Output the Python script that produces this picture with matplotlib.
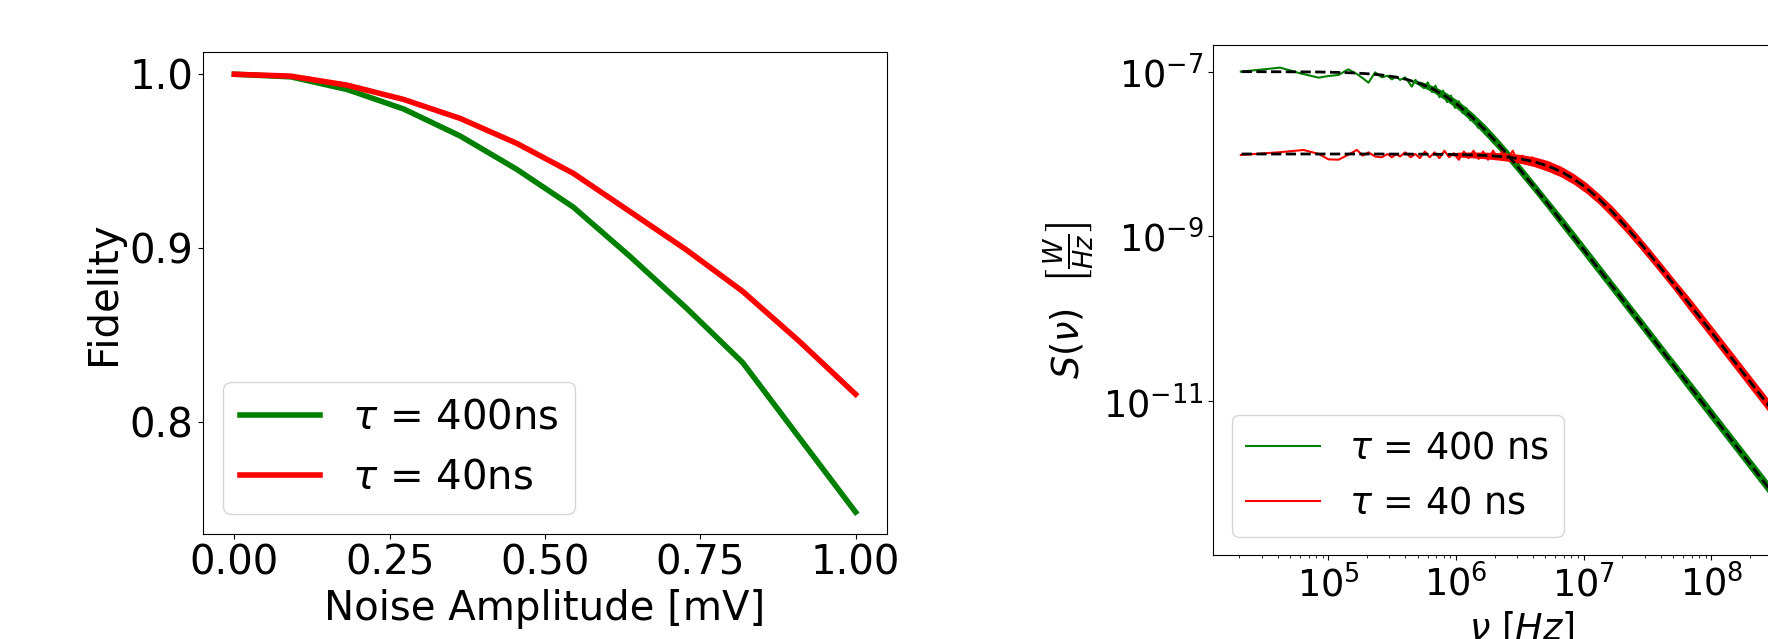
import matplotlib.pyplot as plt
import numpy as np
from matplotlib.ticker import NullLocator

# left panel: fidelity vs noise amplitude
amplitude = [0.0, 0.0909, 0.1818, 0.2727, 0.3636, 0.4545, 0.5455, 0.6364, 0.7273, 0.8182, 0.9091, 1.0]
fid_400ns = [1.000, 0.9985, 0.9912, 0.9800, 0.9645, 0.9454, 0.9237, 0.8955, 0.8658, 0.8344, 0.7914, 0.7485]
fid_40ns = [1.000, 0.9989, 0.9937, 0.9855, 0.9746, 0.9603, 0.9431, 0.9212, 0.8992, 0.8753, 0.8467, 0.8162]

# right panel: measured spectra (sparse low-frequency points, Hz / log10 S)
green_nu = [2.06e4, 4.19e4, 6.0e4, 8.4e4, 1.0e5, 1.2e5, 1.43e5, 1.67e5, 1.86e5, 2.06e5,
            2.32e5, 2.62e5, 2.9e5, 3.14e5, 3.4e5, 3.64e5, 4.0e5, 4.5e5, 4.8e5, 5.2e5,
            5.6e5, 6.0e5, 6.5e5, 6.9e5, 7.4e5, 7.9e5, 8.5e5, 9.1e5, 9.8e5, 1.05e6,
            1.12e6, 1.2e6, 1.29e6, 1.38e6, 1.48e6, 1.58e6, 1.7e6, 1.82e6, 1.95e6, 2.09e6]
green_log = [-7.000, -6.951, -7.02, -7.073, -7.053, -7.040, -6.972, -7.028, -7.08, -7.134,
             -7.008, -7.069, -7.05, -7.093, -7.06, -7.10, -7.07, -7.182, -7.10, -7.16,
             -7.20, -7.13, -7.25, -7.17, -7.31, -7.23, -7.37, -7.29, -7.44, -7.36,
             -7.50, -7.44, -7.59, -7.53, -7.68, -7.63, -7.76, -7.72, -7.86, -7.83]

red_nu = [2.06e4, 4.2e4, 6.4e4, 8.4e4, 1.0e5, 1.2e5, 1.43e5, 1.67e5, 1.86e5, 2.06e5,
          2.32e5, 2.62e5, 2.9e5, 3.14e5, 3.4e5, 3.64e5, 4.0e5, 4.4e5, 4.8e5, 5.2e5,
          5.7e5, 6.2e5, 6.8e5, 7.4e5, 8.1e5, 8.8e5, 9.6e5, 1.05e6, 1.15e6, 1.25e6,
          1.37e6, 1.5e6, 1.63e6, 1.78e6, 1.95e6, 2.13e6, 2.33e6, 2.54e6, 2.78e6, 3.03e6,
          3.31e6, 3.62e6, 3.95e6, 4.3e6]
red_log = [-8.012, -7.978, -7.951, -8.00, -8.065, -8.069, -8.01, -7.95, -8.02, -7.98,
           -8.03, -8.04, -8.00, -8.04, -8.00, -8.03, -7.98, -8.04, -8.00, -8.05,
           -7.97, -8.04, -7.98, -8.05, -7.96, -8.04, -7.99, -8.07, -7.97, -8.05,
           -7.96, -8.06, -7.97, -8.07, -7.96, -8.06, -7.95, -8.06, -7.96, -8.10,
           -8.02, -8.12, -8.04, -8.15]

# dense high-frequency part: fit values (log10 S) and spread of the noise band (decades)
nu_exp = [4.32, 4.42, 4.52, 4.62, 4.72, 4.82, 4.92, 5.02, 5.12, 5.22,
          5.32, 5.42, 5.52, 5.62, 5.72, 5.82, 5.92, 6.02, 6.12, 6.22,
          6.32, 6.42, 6.52, 6.62, 6.72, 6.82, 6.92, 7.02, 7.12, 7.22,
          7.32, 7.42, 7.52, 7.62, 7.72, 7.82, 7.92, 8.02, 8.12, 8.22,
          8.32, 8.42, 8.52, 8.62, 8.72]
fit_400ns = [-7.000, -7.000, -7.001, -7.001, -7.002, -7.003, -7.004, -7.007, -7.011, -7.017,
             -7.027, -7.041, -7.064, -7.097, -7.146, -7.212, -7.301, -7.412, -7.546, -7.697,
             -7.864, -8.041, -8.227, -8.417, -8.611, -8.807, -9.004, -9.203, -9.402, -9.601,
             -9.801, -10.000, -10.200, -10.400, -10.600, -10.800, -11.000, -11.200, -11.400, -11.600,
             -11.800, -12.000, -12.200, -12.400, -12.600]
fit_40ns = [-8.000, -8.000, -8.000, -8.000, -8.000, -8.000, -8.000, -8.000, -8.000, -8.000,
            -8.000, -8.000, -8.001, -8.001, -8.002, -8.003, -8.004, -8.007, -8.011, -8.017,
            -8.027, -8.041, -8.064, -8.097, -8.146, -8.212, -8.301, -8.412, -8.546, -8.697,
            -8.864, -9.041, -9.227, -9.417, -9.611, -9.807, -10.004, -10.203, -10.402, -10.601,
            -10.801, -11.000, -11.200, -11.400, -11.600]
spread_400ns = [0, 0, 0, 0, 0, 0, 0, 0, 0, 0,
                0, 0, 0, 0, 0.03, 0.04, 0.05, 0.055, 0.06, 0.065,
                0.065, 0.065, 0.065, 0.065, 0.065, 0.07, 0.07, 0.07, 0.07, 0.07,
                0.07, 0.07, 0.07, 0.07, 0.07, 0.075, 0.075, 0.075, 0.075, 0.075,
                0.075, 0.075, 0.075, 0.075, 0.075]
spread_40ns = [0, 0, 0, 0, 0, 0, 0, 0, 0, 0,
               0, 0, 0, 0, 0, 0, 0, 0.03, 0.035, 0.04,
               0.045, 0.05, 0.055, 0.06, 0.065, 0.065, 0.065, 0.065, 0.065, 0.07,
               0.07, 0.07, 0.07, 0.07, 0.07, 0.08, 0.08, 0.08, 0.08, 0.08,
               0.08, 0.08, 0.08, 0.08, 0.08]

fig = plt.figure(figsize=(17.68, 6.39), dpi=100)

# ---- left
fs_l = 29
ax1 = fig.add_axes([0.1150, 0.1643, 0.3865, 0.7538])
ax1.plot(amplitude, fid_400ns, color='green', lw=4, label=r'$\tau$ = 400ns')
ax1.plot(amplitude, fid_40ns, color='red', lw=4, label=r'$\tau$ = 40ns')
ax1.set_xticks([0.0, 0.25, 0.5, 0.75, 1.0])
ax1.set_yticks([0.8, 0.9, 1.0])
ax1.tick_params(labelsize=fs_l)
ax1.set_xlabel('Noise Amplitude [mV]', fontsize=fs_l)
ax1.set_ylabel('Fidelity', fontsize=fs_l)
ax1.legend(loc='lower left', fontsize=fs_l)

# ---- right
fs_r = 26.4
ax2 = fig.add_axes([0.6863, 0.1315, 0.3488, 0.7981])
nu = 10 ** np.array(nu_exp)
f400 = np.array(fit_400ns)
f40 = np.array(fit_40ns)
s400 = np.array(spread_400ns)
s40 = np.array(spread_40ns)

ax2.plot(green_nu, 10 ** np.array(green_log), color='green', lw=1.5, label=r'$\tau$ = 400 ns')
ax2.fill_between(nu, 10 ** (f400 - s400), 10 ** (f400 + s400), color='green', lw=0)
ax2.plot(red_nu, 10 ** np.array(red_log), color='red', lw=1.5, label=r'$\tau$ = 40 ns')
ax2.fill_between(nu, 10 ** (f40 - s40), 10 ** (f40 + s40), color='red', lw=0)
ax2.plot(nu, 10 ** f400, 'k--', lw=2)
ax2.plot(nu, 10 ** f40, 'k--', lw=2)

ax2.set_xscale('log')
ax2.set_yscale('log')
ax2.set_xlim(10 ** 4.099, 10 ** 8.929)
ax2.set_ylim(10 ** -12.87, 10 ** -6.676)
ax2.set_yticks([1e-7, 1e-9, 1e-11])
ax2.yaxis.set_minor_locator(NullLocator())
ax2.tick_params(labelsize=fs_r)
ax2.set_xlabel(r'$\nu\ [Hz]$', fontsize=fs_r)
ax2.set_ylabel(r'$S(\nu)$  $\left[\frac{W}{Hz}\right]$', fontsize=fs_r)
ax2.legend(loc='lower left', fontsize=fs_r)

fig.savefig('out.png', dpi=100)
